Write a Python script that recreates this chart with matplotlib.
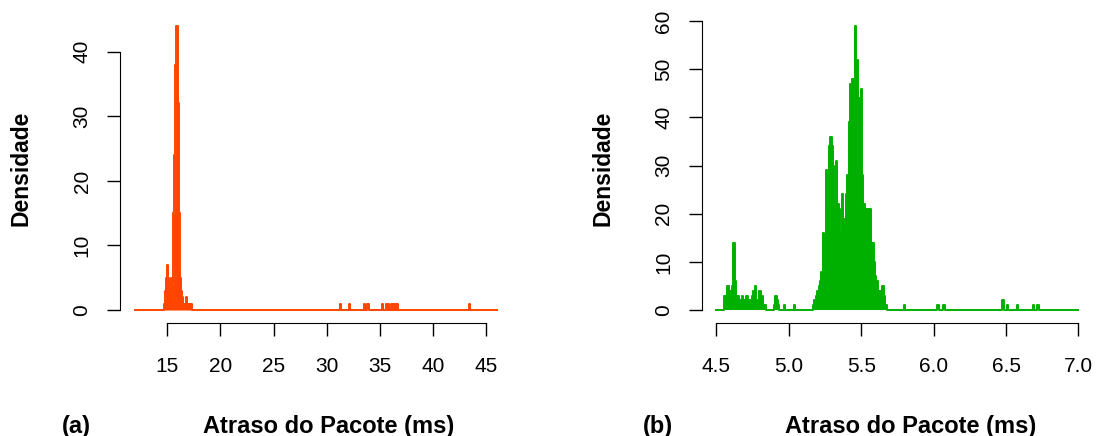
import numpy as np
import matplotlib.pyplot as plt

plt.rcParams['font.family'] = ['Liberation Sans', 'DejaVu Sans']

# ---- panel (a): delay histogram, bins of 0.1 ms
a_range = (11.9, 46.1)
a_bin = 0.1
a_peak_start = 14.7
a_peak_heights = [1, 3, 5, 7, 5, 3, 3, 5, 4, 15, 24, 38, 44, 32, 15, 5, 3, 2,
                  1, 1, 1, 2, 1, 1, 1, 1, 1]
a_out_x = [31.3, 32.2, 33.6, 33.9, 35.3, 35.6, 35.8, 36.1, 36.3, 36.5, 36.7, 43.5]
a_out_h = [1] * len(a_out_x)
a_xticks = [15, 20, 25, 30, 35, 40, 45]
a_yticks = [0, 10, 20, 30, 40]

# ---- panel (b): delay histogram, bins of 0.01 ms
b_range = (4.5, 7.0)
b_bin = 0.01
b_left_start = 4.56
b_left_heights = [3, 2, 5, 2, 4, 5, 14, 6, 3, 3, 1, 2, 3, 2, 1, 3, 2, 1, 2, 3,
                  4, 5, 2, 1, 4, 2, 3, 1, 1]
b_main_start = 5.17
b_main_heights = [1, 2, 3, 4, 5, 6, 8, 16, 15, 29, 21, 34, 36, 34, 30, 21, 31,
                  22, 21, 16, 24, 19, 19, 24, 28, 39, 47, 48, 48, 59, 52, 40,
                  44, 46, 28, 22, 17, 21, 14, 21, 14, 14, 10, 7, 6, 2, 4, 2, 5,
                  3, 1]
b_out_x = [4.90, 4.91, 4.92, 4.93, 4.97, 5.04, 5.80, 6.03, 6.07, 6.48, 6.51,
           6.58, 6.69, 6.72]
b_out_h = [1, 3, 2, 1, 1, 1, 1, 1, 1, 2, 1, 1, 1, 1]
b_xticks = [4.5, 5.0, 5.5, 6.0, 6.5, 7.0]
b_yticks = [0, 10, 20, 30, 40, 50, 60]

col_a = '#FF4500'
col_b = '#00B000'


def build(rng, step, groups):
    grid = np.round(np.arange(rng[0], rng[1] + step / 2, step), 4)
    dens = np.zeros_like(grid)
    for xs, hs in groups:
        for x, h in zip(xs, hs):
            i = int(round((x - rng[0]) / step))
            dens[i] = h
    return grid, dens


a_peak_x = [a_peak_start + i * a_bin for i in range(len(a_peak_heights))]
ax_grid, ax_dens = build(a_range, a_bin, [(a_peak_x, a_peak_heights), (a_out_x, a_out_h)])

b_left_x = [b_left_start + i * b_bin for i in range(len(b_left_heights))]
b_main_x = [b_main_start + i * b_bin for i in range(len(b_main_heights))]
bx_grid, bx_dens = build(b_range, b_bin, [(b_left_x, b_left_heights),
                                          (b_main_x, b_main_heights),
                                          (b_out_x, b_out_h)])

fig = plt.figure(figsize=(10.98, 4.36), dpi=100)
axa = fig.add_axes([0.1093, 0.2628, 0.357, 0.7037])
axb = fig.add_axes([0.6393, 0.2628, 0.3561, 0.7037])


def style(ax, grid, dens, col, xticks, yticks, xfmt):
    ax.fill_between(grid, dens, step='mid', color=col, lw=0)
    ax.step(grid, dens, where='mid', color=col, lw=1.4)
    span = grid[-1] - grid[0]
    ax.set_xlim(grid[0] - 0.04 * span, grid[-1] + 0.04 * span)
    top = dens.max()
    ax.set_ylim(-0.04 * top, top * 1.04)
    for s in ['top', 'right']:
        ax.spines[s].set_visible(False)
    ax.spines['left'].set_bounds(yticks[0], yticks[-1])
    ax.spines['bottom'].set_bounds(xticks[0], xticks[-1])
    ax.spines['bottom'].set_position(('outward', 1))
    ax.set_xticks(xticks)
    ax.set_xticklabels([xfmt.format(t) for t in xticks])
    ax.set_yticks(yticks)
    ax.set_yticklabels([str(t) for t in yticks], rotation=90, va='center')
    ax.tick_params(axis='both', length=9.5, width=1, labelsize=15)
    ax.tick_params(axis='x', pad=15)
    ax.tick_params(axis='y', pad=11)


style(axa, ax_grid, ax_dens, col_a, a_xticks, a_yticks, '{:g}')
style(axb, bx_grid, bx_dens, col_b, b_xticks, b_yticks, '{:.1f}')

for ax, tag, xl, xy in [(axa, '(a)', 61.5, 21), (axb, '(b)', 642.5, 603)]:
    pos = ax.get_position()
    cx = (pos.x0 + pos.x1) / 2 + 13 / 1098
    cy = (pos.y0 + pos.y1) / 2
    fig.text(cx, 3 / 436, 'Atraso do Pacote (ms)', ha='center', va='baseline',
             fontsize=17, fontweight='bold')
    fig.text(xl / 1098, 3 / 436, tag, ha='left', va='baseline',
             fontsize=17, fontweight='bold')
    fig.text(xy / 1098, cy, 'Densidade', ha='center', va='center', rotation=90,
             fontsize=16.5, fontweight='bold')

fig.savefig('out.png', dpi=100)
